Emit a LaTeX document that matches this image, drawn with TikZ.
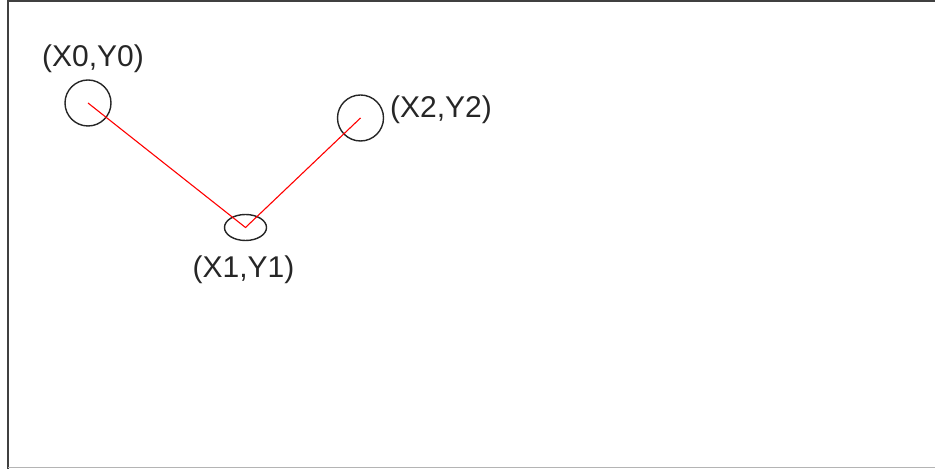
\documentclass[tikz,border=0pt]{standalone}
\usepackage{fontspec}
\setmainfont{Liberation Sans}
\usepackage{tikz}
\usetikzlibrary{shapes.geometric}
\definecolor{framedark}{HTML}{404040}
\definecolor{framelight}{HTML}{B4B4B4}
\definecolor{markgray}{HTML}{262626}

\begin{document}
\begin{tikzpicture}[x=0.5pt,y=-0.5pt]
\tikzstyle{every node}=[inner sep=0pt,text=markgray,font=\fontsize{15}{18}\selectfont]
\tikzstyle{pt}=[draw=markgray,line width=0.7pt]
\useasboundingbox (0,0) rectangle (935,469);
\draw[framedark,line width=1pt] (935,1.5) -- (8,1.5) -- (8,469);
\draw[framelight,line width=0.6pt] (8,467.5) -- (935,467.5);
\node[pt,circle,minimum size=23pt] (p0) at (88,103) {};
\node[pt,ellipse,minimum width=21pt,minimum height=13pt] (p1) at (245.5,227.5) {};
\node[pt,circle,minimum size=23pt] (p2) at (360.5,118) {};
\node (l0) at (93,59) {(X0,Y0)};
\node (l1) at (243.5,270) {(X1,Y1)};
\node (l2) at (441,109.5) {(X2,Y2)};
\draw[red,line width=0.55pt] (p0.center) -- (p1.center) -- (p2.center);
\end{tikzpicture}
\end{document}
